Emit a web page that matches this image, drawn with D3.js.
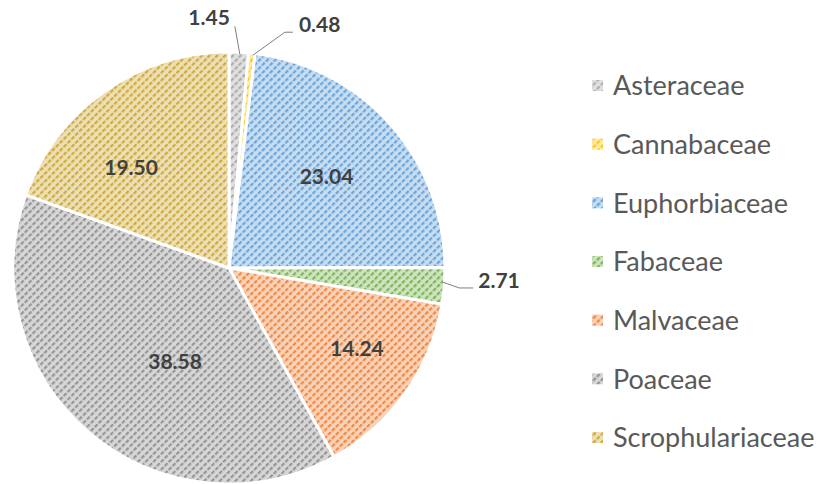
<!DOCTYPE html>
<html>
<head>
<meta charset="utf-8">
<script src="https://cdn.jsdelivr.net/npm/d3@7"></script>
<style>
  body { margin: 0; background: #fff; }
  svg { display: block; font-family: Lato, "Noto Sans", sans-serif; }
</style>
</head>
<body>
<svg width="822" height="484"></svg>
<script>
var families = ["Asteraceae", "Cannabaceae", "Euphorbiaceae", "Fabaceae", "Malvaceae", "Poaceae", "Scrophulariaceae"];
var shares = [1.45, 0.48, 23.04, 2.71, 14.24, 38.58, 19.50];
var colors = ["#A5A5A5", "#FFC000", "#5B9BD5", "#70AD47", "#ED7D31", "#8A8A8A", "#C9A227"];

var data = families.map((name, i) => ({ name: name, value: shares[i], color: colors[i], idx: i }));

var svg = d3.select("svg");
var cx = 229, cy = 268, radius = 216;

// hatch patterns, one per slice colour
var defs = svg.append("defs");
data.forEach((d) => {
    let light = d3.interpolateRgb(d.color, "#ffffff")(0.66);
    let p = defs.append("pattern")
        .attr("id", "pat" + d.idx)
        .attr("patternUnits", "userSpaceOnUse")
        .attr("width", 5.5)
        .attr("height", 5.5)
        .attr("patternTransform", "rotate(45)");
    p.append("rect").attr("width", 5.5).attr("height", 5.5).attr("fill", light);
    p.append("rect").attr("width", 2.2).attr("height", 4).attr("fill", d.color).attr("opacity", 0.85);
});

var pie = d3.pie().value((d) => d.value).sort(null);
var arc = d3.arc().innerRadius(0).outerRadius(radius);
var arcs = pie(data);

var g = svg.append("g").attr("transform", `translate(${cx},${cy})`);

g.selectAll("path")
    .data(arcs)
    .enter()
    .append("path")
    .attr("d", arc)
    .attr("fill", (d) => "url(#pat" + d.data.idx + ")")
    .attr("stroke", "#fff")
    .attr("stroke-width", 3);

// inside labels: [share of radius, position across the slice]
var labelPlace = {
    "Euphorbiaceae": [0.62, 0.48],
    "Malvaceae": [0.70, 0.44],
    "Poaceae": [0.50, 0.425],
    "Scrophulariaceae": [0.65, 0.37]
};

var labels = g.append("g");
arcs.forEach((d) => {
    let txt = d.value.toFixed(2);
    if (d.data.value < 5) {
        let mid = (d.startAngle + d.endAngle) / 2;
        let ex = Math.sin(mid) * radius, ey = -Math.cos(mid) * radius;
        let lines, tx, ty, anchor;
        if (d.data.name == "Asteraceae") {
            lines = [[ex + 1, ey + 2], [ex - 4, ey - 26]];
            tx = ex - 9; ty = ey - 35; anchor = "end";
        } else if (d.data.name == "Cannabaceae") {
            lines = [[ex + 1, ey + 2], [ex + 33, ey - 21], [ex + 41, ey - 21]];
            tx = ex + 47; ty = ey - 29; anchor = "start";
        } else {
            lines = [[ex - 2, ey - 4], [ex + 15, ey + 2], [ex + 29, ey + 2]];
            tx = ex + 34; ty = ey - 5; anchor = "start";
        }
        labels.append("polyline")
            .attr("points", lines.map((p) => p.join(",")).join(" "))
            .attr("fill", "none")
            .attr("stroke", "#7f7f7f")
            .attr("stroke-width", 1);
        labels.append("text")
            .attr("x", tx).attr("y", ty)
            .attr("dy", "0.35em")
            .attr("text-anchor", anchor)
            .attr("font-size", 21)
            .attr("font-weight", "bold")
            .attr("fill", "#404040")
            .text(txt);
    } else {
        let place = labelPlace[d.data.name];
        let a = d.startAngle + (d.endAngle - d.startAngle) * place[1];
        let r = radius * place[0];
        labels.append("text")
            .attr("x", Math.sin(a) * r).attr("y", -Math.cos(a) * r)
            .attr("dy", "0.35em")
            .attr("text-anchor", "middle")
            .attr("font-size", 21)
            .attr("font-weight", "bold")
            .attr("fill", "#404040")
            .text(txt);
    }
});

// legend
var legendY = d3.scalePoint().domain(families).range([86, 438]);
var legend = svg.append("g");
data.forEach((d) => {
    let y = legendY(d.name);
    legend.append("rect")
        .attr("x", 592).attr("y", y - 6)
        .attr("width", 11).attr("height", 11)
        .attr("fill", "url(#pat" + d.idx + ")");
    legend.append("text")
        .attr("x", 613).attr("y", y)
        .attr("dy", "0.35em")
        .attr("font-size", 27)
        .attr("fill", "#595959")
        .text(d.name);
});
</script>
</body>
</html>
